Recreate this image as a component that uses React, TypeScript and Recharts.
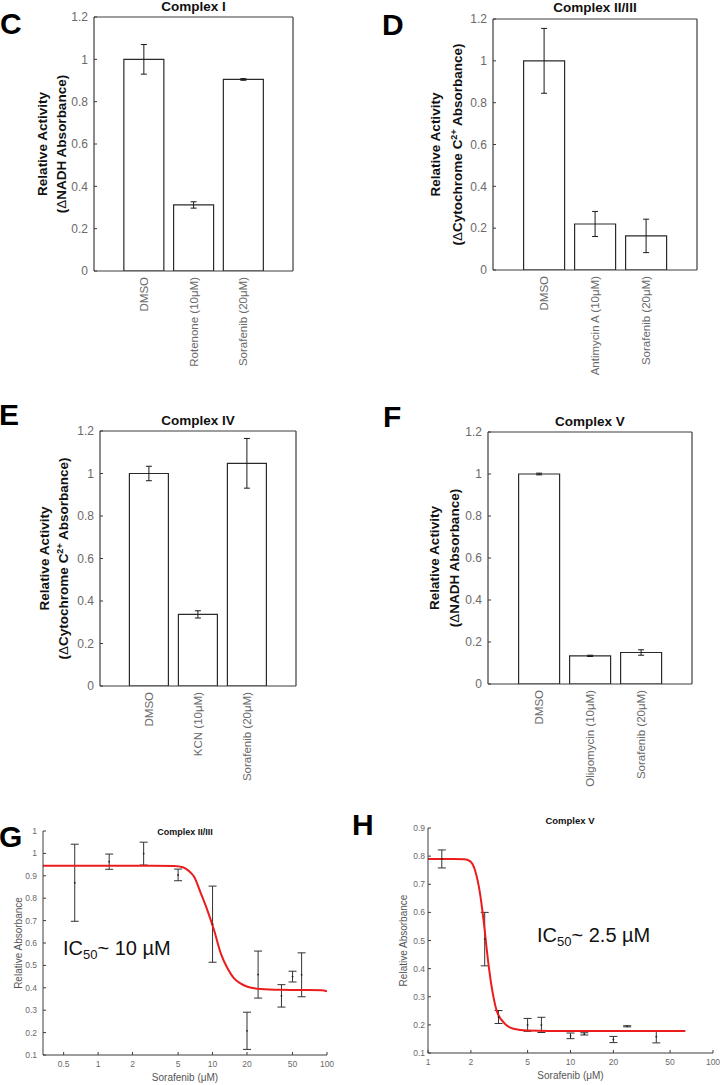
import React from "react";
import { BarChart, Bar, XAxis, YAxis, ErrorBar, ComposedChart, Line, Scatter } from "recharts";

const FONT = "'Liberation Sans', Arial, Helvetica, sans-serif";
const AXIS = "#3c3c3c";
const TICK_TEXT = "#6a6a6a";

// ---- bar panels C-F ----
const barTicks = [0, 0.2, 0.4, 0.6, 0.8, 1, 1.2];
const barTickLabels = ["0", "0.2", "0.4", "0.6", "0.8", "1", "1.2"];

const complexICats = ["DMSO", "Rotenone (10μM)", "Sorafenib (20μM)"];
const complexIMeans = [1.0, 0.312, 0.905];
const complexIErr = [0.07, 0.015, 0.004];

const complexIIIIICats = ["DMSO", "Antimycin A (10μM)", "Sorafenib (20μM)"];
const complexIIIIIMeans = [1.0, 0.22, 0.163];
const complexIIIIIErr = [0.155, 0.06, 0.08];

const complexIVCats = ["DMSO", "KCN (10μM)", "Sorafenib (20μM)"];
const complexIVMeans = [1.0, 0.337, 1.048];
const complexIVErr = [0.034, 0.017, 0.117];

const complexVCats = ["DMSO", "Oligomycin (10μM)", "Sorafenib (20μM)"];
const complexVMeans = [1.0, 0.134, 0.15];
const complexVErr = [0.004, 0.003, 0.013];

// ---- dose response G (complex II/III) ----
const gDose = [0.625, 1.25, 2.5, 5, 10, 20, 25, 40, 50, 60];
const gMean = [0.869, 0.963, 0.999, 0.904, 0.684, 0.208, 0.459, 0.364, 0.45, 0.458];
const gErr = [0.172, 0.034, 0.051, 0.026, 0.17, 0.083, 0.105, 0.05, 0.024, 0.098];
const gFitX = [0.33, 1, 3, 4.6, 5.5, 6.2, 6.9, 7.9, 9, 10.3, 11.8, 13.5, 15.4, 17.5, 20.2, 26.4, 40, 60, 90, 100];
const gFitY = [0.945, 0.945, 0.945, 0.944, 0.938, 0.922, 0.896, 0.822, 0.747, 0.658, 0.554, 0.487, 0.442, 0.42, 0.405, 0.395, 0.391, 0.39, 0.389, 0.385];
const gXTicks = [0.5, 1, 2, 5, 10, 20, 50, 100];
const gYTicks = [0.1, 0.2, 0.3, 0.4, 0.5, 0.6, 0.7, 0.8, 0.9, 1, 1.1];
const gYTickLabels = ["0.1", "0.2", "0.3", "0.4", "0.5", "0.6", "0.7", "0.8", "0.9", "1", "1"];

// ---- dose response H (complex V) ----
const hDose = [1.25, 2.5, 3.125, 5, 6.25, 10, 12.5, 20, 25, 40];
const hMean = [0.79, 0.505, 0.228, 0.2, 0.2, 0.161, 0.168, 0.148, 0.195, 0.158];
const hErr = [0.032, 0.095, 0.023, 0.023, 0.027, 0.01, 0.004, 0.011, 0.002, 0.022];
const hFitX = [1, 1.5, 1.8, 1.97, 2.14, 2.32, 2.47, 2.62, 2.8, 3.03, 3.38, 3.98, 5, 10, 30, 64];
const hFitY = [0.79, 0.79, 0.789, 0.782, 0.749, 0.666, 0.56, 0.441, 0.334, 0.251, 0.21, 0.186, 0.18, 0.178, 0.178, 0.178];
const hXTicks = [1, 2, 5, 10, 20, 50, 100];
const hYTicks = [0.1, 0.2, 0.3, 0.4, 0.5, 0.6, 0.7, 0.8, 0.9];
const hYTickLabels = ["0.1", "0.2", "0.3", "0.4", "0.5", "0.6", "0.7", "0.8", "0.9"];

type Rect = { x0: number; y0: number; x1: number; y1: number };

const RotTick = (props: any) => {
  const { x, y, payload } = props;
  return (
    <text
      x={x}
      y={y}
      transform={`rotate(-90 ${x} ${y})`}
      textAnchor="end"
      dy="0.35em"
      fontSize={11.5}
      fill={TICK_TEXT}
      fontFamily={FONT}
    >
      {payload.value}
    </text>
  );
};

function BarPanel(p: {
  left: number;
  top: number;
  width: number;
  height: number;
  plot: Rect;
  cats: string[];
  means: number[];
  errs: number[];
}) {
  const data = p.cats.map((name, i) => ({ name, mean: p.means[i], err: p.errs[i] }));
  const pad = (p.plot.x1 - p.plot.x0) / 8;
  const margin = {
    top: p.plot.y0 - p.top - 1,
    right: p.left + p.width - p.plot.x1 - 1,
    bottom: 0,
    left: 0,
  };
  return (
    <div style={{ position: "absolute", left: p.left, top: p.top }}>
      <BarChart width={p.width} height={p.height} data={data} margin={margin}>
        <XAxis
          dataKey="name"
          height={p.top + p.height - p.plot.y1}
          padding={{ left: pad, right: pad }}
          interval={0}
          tickSize={0}
          tickMargin={6}
          tick={<RotTick />}
          axisLine={{ stroke: AXIS, strokeWidth: 1.2 }}
        />
        <XAxis
          xAxisId="top"
          orientation="top"
          dataKey="name"
          height={1}
          padding={{ left: pad, right: pad }}
          interval={0}
          tick={false}
          tickSize={-3}
          axisLine={{ stroke: AXIS, strokeWidth: 1.2 }}
          tickLine={{ stroke: AXIS }}
        />
        <YAxis
          width={p.plot.x0 - p.left}
          domain={[0, 1.2]}
          allowDataOverflow
          ticks={barTicks}
          interval={0}
          tickFormatter={(v: number) => barTickLabels[barTicks.indexOf(v)]}
          tickSize={-3}
          tickMargin={9}
          tick={{ fontSize: 12, fill: TICK_TEXT, fontFamily: FONT }}
          axisLine={{ stroke: AXIS, strokeWidth: 1.2 }}
          tickLine={{ stroke: AXIS }}
        />
        <YAxis
          yAxisId="right"
          orientation="right"
          width={1}
          domain={[0, 1.2]}
          allowDataOverflow
          ticks={barTicks}
          interval={0}
          tick={false}
          tickSize={-3}
          axisLine={{ stroke: AXIS, strokeWidth: 1.2 }}
          tickLine={{ stroke: AXIS }}
        />
        <Bar dataKey="mean" fill="#ffffff" stroke="#2a2a2a" strokeWidth={1.2} isAnimationActive={false}>
          <ErrorBar dataKey="err" direction="y" width={3} stroke="#1a1a1a" strokeWidth={1} />
        </Bar>
      </BarChart>
    </div>
  );
}

function DosePanel(p: {
  left: number;
  top: number;
  width: number;
  height: number;
  plot: Rect;
  dose: number[];
  mean: number[];
  err: number[];
  fitX: number[];
  fitY: number[];
  xDomain: [number, number];
  xTicks: number[];
  yDomain: [number, number];
  yTicks: number[];
  yTickLabels: string[];
  yTickMargin: number;
}) {
  const points = p.dose.map((x, i) => ({ x, y: p.mean[i], err: p.err[i] }));
  const fit = p.fitX.map((x, i) => ({ x, y: p.fitY[i] }));
  const margin = {
    top: p.plot.y0 - p.top,
    right: p.left + p.width - p.plot.x1,
    bottom: 0,
    left: 0,
  };
  const tickStyle = { fontSize: 8.5, fill: TICK_TEXT, fontFamily: FONT };
  return (
    <div style={{ position: "absolute", left: p.left, top: p.top }}>
      <ComposedChart width={p.width} height={p.height} margin={margin}>
        <XAxis
          type="number"
          dataKey="x"
          scale="log"
          domain={p.xDomain}
          allowDataOverflow
          ticks={p.xTicks}
          interval={0}
          tickFormatter={(v: number) => String(v)}
          height={p.top + p.height - p.plot.y1}
          tickSize={-3}
          tickMargin={9}
          tick={tickStyle}
          axisLine={{ stroke: AXIS }}
          tickLine={{ stroke: AXIS }}
        />
        <YAxis
          type="number"
          domain={p.yDomain}
          allowDataOverflow
          ticks={p.yTicks}
          interval={0}
          tickFormatter={(v: number) => p.yTickLabels[p.yTicks.indexOf(v)]}
          width={p.plot.x0 - p.left}
          tickSize={-3}
          tickMargin={p.yTickMargin}
          tick={tickStyle}
          axisLine={{ stroke: AXIS }}
          tickLine={{ stroke: AXIS }}
        />
        <Scatter
          data={points}
          dataKey="y"
          isAnimationActive={false}
          shape={(s: any) => <circle cx={s.cx} cy={s.cy} r={0.9} fill="#222" />}
        >
          <ErrorBar dataKey="err" direction="y" width={4} stroke="#333" strokeWidth={1} />
        </Scatter>
        <Line
          data={fit}
          dataKey="y"
          type="monotone"
          stroke="#ec1c1c"
          strokeWidth={2}
          dot={false}
          activeDot={false}
          isAnimationActive={false}
        />
      </ComposedChart>
    </div>
  );
}

const RotText = (p: { x: number; y: number; size: number; bold?: boolean; fill?: string; children: React.ReactNode }) => (
  <text
    x={p.x}
    y={p.y}
    transform={`rotate(-90 ${p.x} ${p.y})`}
    textAnchor="middle"
    dy="0.35em"
    fontSize={p.size}
    fontWeight={p.bold ? "bold" : "normal"}
    fill={p.fill || "#111"}
    fontFamily={FONT}
  >
    {p.children}
  </text>
);

const Letter = ({ x, y, t }: { x: number; y: number; t: string }) => (
  <text x={x} y={y} fontSize={30} fontWeight="bold" fill="#000" fontFamily={FONT}>
    {t}
  </text>
);

const Title = ({ x, y, size, t }: { x: number; y: number; size: number; t: string }) => (
  <text x={x} y={y} fontSize={size} fontWeight="bold" fill="#111" textAnchor="middle" fontFamily={FONT}>
    {t}
  </text>
);

const Cyto = () => (
  <>
    (<tspan fontWeight="normal">Δ</tspan>Cytochrome C
    <tspan fontSize={9} dy={-5}>2+</tspan>
    <tspan dy={5}> Absorbance)</tspan>
  </>
);

const Nadh = () => (
  <>
    (<tspan fontWeight="normal">Δ</tspan>NADH Absorbance)
  </>
);

const Ic50 = ({ x, y, value }: { x: number; y: number; value: string }) => (
  <text x={x} y={y} fontSize={20} fill="#111" fontFamily={FONT}>
    IC
    <tspan fontSize={13} dy={4}>50</tspan>
    <tspan dy={-4}>{"~ " + value}</tspan>
  </text>
);

export default function App() {
  return (
    <div
      style={{
        position: "absolute",
        left: 0,
        top: 0,
        width: 720,
        height: 1085,
        overflow: "hidden",
        background: "#fff",
        fontFamily: FONT,
      }}
    >
      <BarPanel
        left={0}
        top={0}
        width={360}
        height={390}
        plot={{ x0: 94, y0: 17, x1: 293, y1: 271 }}
        cats={complexICats}
        means={complexIMeans}
        errs={complexIErr}
      />
      <BarPanel
        left={360}
        top={0}
        width={360}
        height={390}
        plot={{ x0: 493, y0: 19, x1: 697, y1: 270 }}
        cats={complexIIIIICats}
        means={complexIIIIIMeans}
        errs={complexIIIIIErr}
      />
      <BarPanel
        left={0}
        top={380}
        width={360}
        height={420}
        plot={{ x0: 100, y0: 431, x1: 296, y1: 686 }}
        cats={complexIVCats}
        means={complexIVMeans}
        errs={complexIVErr}
      />
      <BarPanel
        left={360}
        top={380}
        width={360}
        height={420}
        plot={{ x0: 488, y0: 432, x1: 692, y1: 684 }}
        cats={complexVCats}
        means={complexVMeans}
        errs={complexVErr}
      />
      <DosePanel
        left={0}
        top={760}
        width={360}
        height={325}
        plot={{ x0: 43, y0: 831, x1: 327, y1: 1055 }}
        dose={gDose}
        mean={gMean}
        err={gErr}
        fitX={gFitX}
        fitY={gFitY}
        xDomain={[0.33, 100]}
        xTicks={gXTicks}
        yDomain={[0.1, 1.1]}
        yTicks={gYTicks}
        yTickLabels={gYTickLabels}
        yTickMargin={9}
      />
      <DosePanel
        left={360}
        top={760}
        width={360}
        height={325}
        plot={{ x0: 428, y0: 828, x1: 713, y1: 1053 }}
        dose={hDose}
        mean={hMean}
        err={hErr}
        fitX={hFitX}
        fitY={hFitY}
        xDomain={[1, 100]}
        xTicks={hXTicks}
        yDomain={[0.1, 0.9]}
        yTicks={hYTicks}
        yTickLabels={hYTickLabels}
        yTickMargin={6}
      />
      <svg
        width={720}
        height={1085}
        style={{ position: "absolute", left: 0, top: 0, pointerEvents: "none" }}
      >
        <Letter x={0} y={34} t="C" />
        <Letter x={382} y={35} t="D" />
        <Letter x={-1} y={425} t="E" />
        <Letter x={383} y={427} t="F" />
        <Letter x={-1} y={847} t="G" />
        <Letter x={352} y={835} t="H" />

        <Title x={193.5} y={11} size={13.5} t="Complex I" />
        <Title x={595} y={12} size={13.5} t="Complex II/III" />
        <Title x={198} y={425} size={13.5} t="Complex IV" />
        <Title x={590} y={426} size={13.5} t="Complex V" />
        <Title x={185} y={835} size={9} t="Complex II/III" />
        <Title x={570} y={824} size={9.5} t="Complex V" />

        <RotText x={42} y={144} size={13.5} bold>Relative Activity</RotText>
        <RotText x={61} y={144} size={13.5} bold><Nadh /></RotText>
        <RotText x={435} y={144.5} size={13.5} bold>Relative Activity</RotText>
        <RotText x={457} y={144.5} size={13.5} bold><Cyto /></RotText>
        <RotText x={44} y={558.5} size={13.5} bold>Relative Activity</RotText>
        <RotText x={63} y={558.5} size={13.5} bold><Cyto /></RotText>
        <RotText x={434} y={558} size={13.5} bold>Relative Activity</RotText>
        <RotText x={454} y={558} size={13.5} bold><Nadh /></RotText>

        <RotText x={18} y={943} size={10} fill="#555">Relative Absorbance</RotText>
        <RotText x={403} y={940.5} size={10} fill="#555">Relative Absorbance</RotText>
        <text x={185} y={1081} fontSize={10} fill="#555" textAnchor="middle" fontFamily={FONT}>
          Sorafenib (μM)
        </text>
        <text x={570.5} y={1079} fontSize={10} fill="#555" textAnchor="middle" fontFamily={FONT}>
          Sorafenib (μM)
        </text>

        <Ic50 x={63} y={955} value="10 µM" />
        <Ic50 x={537} y={942} value="2.5 µM" />
      </svg>
    </div>
  );
}
